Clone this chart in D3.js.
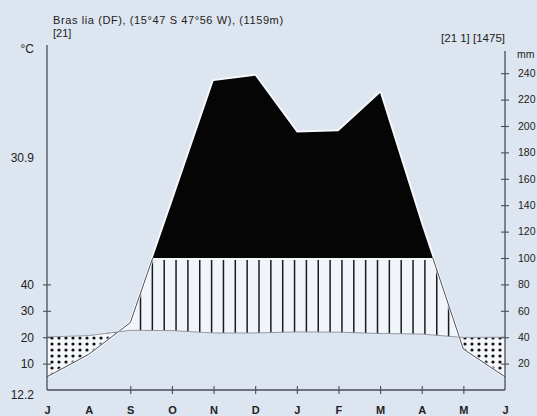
<!DOCTYPE html>
<html><head><meta charset="utf-8">
<script src="https://cdn.jsdelivr.net/npm/d3@7"></script>
<style>
html,body{margin:0;padding:0;background:#dde5f0;}
svg{display:block;font-family:"Liberation Sans",Arial,sans-serif;}
</style></head><body>
<svg id="c" width="537" height="416"></svg>
<script>
// ---- data ----
const months = ["J","A","S","O","N","D","J","F","M","A","M","J"];
const temperature = [20.1, 20.6, 22.6, 22.5, 21.6, 21.6, 22.0, 21.9, 21.4, 21.2, 19.9, 20.0];
const precipitation = [10, 27, 51, 142, 234, 238, 195, 196, 225, 125, 31, 10];
const tempTicks = [10, 20, 30, 40];
const precipTicks = [20, 40, 60, 80, 100, 120, 140, 160, 180, 200, 220, 240];
const monthTickIdx = [2, 3, 4, 5, 6, 7, 8, 9, 10];
const titleText = "Bras lia (DF), (15°47 S 47°56 W), (1159m)";
const yearsText = "[21]";
const summaryText = "[21 1] [1475]";
const tMaxText = "30.9";
const tMinText = "12.2";

// ---- layout ----
const svg = d3.select("#c");
const left = 47, right = 505, base = 390, axTop = 45;
const FS = 12;
const x = d3.scaleLinear().domain([0, 11]).range([left, right]);
const yP = d3.scaleLinear().domain([0, 100]).range([base, base - 132]);
const yT = d3.scaleLinear().domain([0, 50]).range([base, base - 132]);

// augmented points with crossings
const pts = [];
for (let i = 0; i < 12; i++) {
  pts.push({i, t: temperature[i], p: precipitation[i]});
  if (i < 11) {
    const t0 = temperature[i], t1 = temperature[i+1], p0 = precipitation[i], p1 = precipitation[i+1];
    const c = [];
    const d0 = p0 - 2*t0, d1 = p1 - 2*t1;
    if (d0 * d1 < 0) c.push(d0 / (d0 - d1));
    const e0 = p0 - 100, e1 = p1 - 100;
    if (e0 * e1 < 0) c.push(e0 / (e0 - e1));
    c.sort((a,b)=>a-b).forEach(f => pts.push({i: i+f, t: t0+(t1-t0)*f, p: p0+(p1-p0)*f}));
  }
}

const defs = svg.append("defs");
const wetArea = d3.area().x(d => x(d.i)).y0(d => yT(d.t))
  .y1(d => Math.min(yP(Math.min(d.p, 100)), yT(d.t)));
const dryArea = d3.area().x(d => x(d.i)).y0(d => yT(d.t))
  .y1(d => Math.max(yP(d.p), yT(d.t)));
const blackArea = d3.area().x(d => x(d.i)).y0(yP(100)).y1(d => yP(d.p));
const blackPts = pts.filter(d => d.p >= 99.999);

defs.append("clipPath").attr("id","wet").append("path").attr("d", wetArea(pts));
const pat = defs.append("pattern").attr("id","dots").attr("patternUnits","userSpaceOnUse")
  .attr("width",7).attr("height",6).attr("x",0).attr("y",0);
pat.append("rect").attr("width",7).attr("height",6).attr("fill","#f4f6fa");
pat.append("circle").attr("cx",3).attr("cy",2).attr("r",1.6).attr("fill","#111");

// wet hatch
svg.append("path").attr("d", wetArea(pts)).attr("fill","#f1f4f9");
const hatch = svg.append("g").attr("clip-path","url(#wet)");
hatch.selectAll("line").data(d3.range(140.5, right, 11.85)).join("line")
  .attr("x1", d=>d).attr("x2", d=>d).attr("y1", yP(100)-2).attr("y2", base)
  .attr("stroke","#161b26").attr("stroke-width",1.5);

// dry dots
svg.append("path").attr("d", dryArea(pts)).attr("fill","url(#dots)");

// black (>100mm)
svg.append("path").attr("d", blackArea(blackPts)).attr("fill","none")
  .attr("stroke","#f6f8fb").attr("stroke-width",4).attr("stroke-linejoin","round");
svg.append("path").attr("d", blackArea(blackPts)).attr("fill","#050505");

// lines
const pLine = d3.line().x(d => x(d.i)).y(d => yP(d.p));
const tLine = d3.line().x(d => x(d.i)).y(d => yT(d.t));
const segs = [];
let cur = [];
pts.forEach(d => { if (d.p <= 100.001) cur.push(d); else { if (cur.length) segs.push(cur); cur = []; } });
if (cur.length) segs.push(cur);
segs.forEach(s => {
  svg.append("path").attr("d", pLine(s)).attr("fill","none").attr("stroke","rgba(255,255,255,0.7)").attr("stroke-width",3);
  svg.append("path").attr("d", pLine(s)).attr("fill","none").attr("stroke","#4a5060").attr("stroke-width",1);
});
svg.append("path").attr("d", tLine(pts)).attr("fill","none").attr("stroke","#8a909c").attr("stroke-width",0.9);

// axes
const axCol = "#4a4e58";
const gl = svg.append("g").attr("transform",`translate(${left},0)`)
  .call(d3.axisLeft(yT).tickValues(tempTicks).tickSize(4).tickPadding(9));
gl.select(".domain").remove();
gl.selectAll(".tick line").attr("x1",4).attr("stroke",axCol).attr("stroke-width",1.1);
gl.selectAll(".tick text").attr("font-size",FS).attr("fill","#222").attr("font-family","Liberation Sans, Arial, sans-serif");
svg.append("line").attr("x1",left).attr("x2",left).attr("y1",axTop).attr("y2",base).attr("stroke",axCol).attr("stroke-width",1.3);

const gr = svg.append("g").attr("transform",`translate(${right},0)`)
  .call(d3.axisRight(yP).tickValues(precipTicks).tickSize(4).tickPadding(9));
gr.select(".domain").remove();
gr.selectAll(".tick line").attr("x1",-4).attr("stroke",axCol).attr("stroke-width",1.1);
gr.selectAll(".tick text").attr("font-size",10.5).attr("fill","#222").attr("font-family","Liberation Sans, Arial, sans-serif");
svg.append("line").attr("x1",right).attr("x2",right).attr("y1",51).attr("y2",base).attr("stroke",axCol).attr("stroke-width",1.3);

const gb = svg.append("g").attr("transform",`translate(0,${base})`)
  .call(d3.axisBottom(x).tickValues(monthTickIdx).tickSize(4).tickFormat(""));
gb.select(".domain").remove();
gb.selectAll(".tick line").attr("y1",-4).attr("stroke",axCol).attr("stroke-width",1.1);
svg.append("line").attr("x1",left).attr("x2",right).attr("y1",base).attr("y2",base).attr("stroke",axCol).attr("stroke-width",1.3);

const gm = svg.append("g").attr("transform",`translate(0,${base})`)
  .call(d3.axisBottom(x).tickValues(d3.range(12)).tickSize(0).tickPadding(16).tickFormat(i => months[i]));
gm.select(".domain").remove();
gm.selectAll(".tick text").attr("font-size",11).attr("font-weight","bold").attr("fill","#222").attr("font-family","Liberation Sans, Arial, sans-serif");

// texts
const txt = (s, tx, ty, anchor, size) => svg.append("text").text(s).attr("x",tx).attr("y",ty)
  .attr("text-anchor",anchor||"start").attr("font-size",size||FS).attr("fill","#222");
txt(titleText, 53, 24, "start", 11).attr("letter-spacing", 0.6);
txt(yearsText, 53, 37, "start", 11);
txt(summaryText, right, 42, "end", 11.5);
txt("°C", 34, 53, "end", FS);
txt(tMaxText, 34, 162, "end", FS);
txt(tMinText, 34, 399, "end", FS);
txt("mm", 517, 58, "start", 10.5);
</script>
</body></html>
